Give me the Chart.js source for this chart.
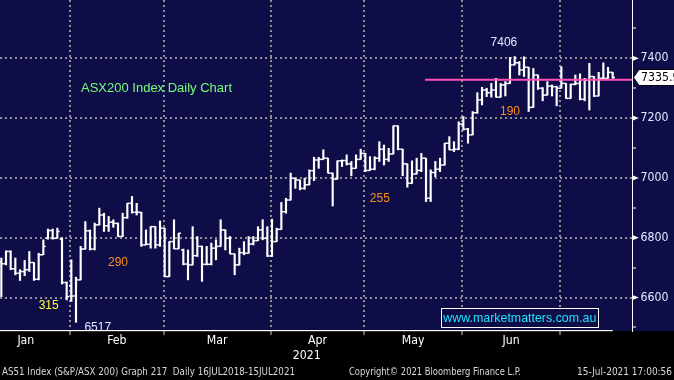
<!DOCTYPE html>
<html><head><meta charset="utf-8">
<script src="https://cdn.jsdelivr.net/npm/chart.js@4.4.1/dist/chart.umd.min.js"></script>
<style>html,body{margin:0;padding:0;background:#000;overflow:hidden}#wrap{width:674px;height:380px}</style>
</head><body><div id="wrap"><canvas id="c" width="674" height="380"></canvas></div>
<script>
// ---------------- DATA ----------------
// ASX trading days shown (2021), by month
const tradingDays = {
  '01': [7,8,11,12,13,14,15,18,19,20,21,22,25,27,28,29],
  '02': [1,2,3,4,5,8,9,10,11,12,15,16,17,18,19,22,23,24,25,26],
  '03': [1,2,3,4,5,8,9,10,11,12,15,16,17,18,19,22,23,24,25,26,29,30,31],
  '04': [1,6,7,8,9,12,13,14,15,16,19,20,21,22,23,26,27,28,29,30],
  '05': [3,4,5,6,7,10,11,12,13,14,17,18,19,20,21,24,25,26,27,28,31],
  '06': [1,2,3,4,7,8,9,10,11,15,16,17,18,21,22,23,24,25,28,29,30],
  '07': [1,2,5,6,7,8,9,12,13,14,15]
};
const hiddenJanDays = 3; // Jan 4-6 lie left of the visible window
const opens = [6720,6713,6754,6696,6681,6687,6693,6717,6661,6743,
 6798,6824,6798,6795,6650,6640,6605,6659,6762,6823,
 6762,6843,6876,6840,6852,6848,6804,6867,6915,6885,
 6885,6776,6778,6837,6776,6832,6670,6787,6763,6759,
 6712,6709,6740,6771,6711,6711,6765,6771,6826,6798,
 6746,6709,6750,6748,6779,6790,6826,6798,6739,6787,
 6828,6887,6926,6999,6993,6965,6977,7024,7060,7062,
 7066,7016,6996,7057,7058,7047,7032,7062,7082,7025,
 7029,7066,7096,7062,7080,7174,7096,7047,6982,7013,
 7025,7066,6932,7018,7029,7043,7116,7094,7096,7180,
 7163,7144,7218,7261,7294,7285,7294,7270,7311,7316,
 7378,7385,7361,7370,7236,7344,7300,7277,7307,7305,
 7300,7316,7266,7313,7316,7263,7327,7339,7274,7333,
 7333,7353];
const highs = [6732,6756,6756,6732,6693,6724,6754,6717,6748,6793,
 6829,6829,6832,6800,6652,6726,6668,6771,6854,6826,
 6849,6899,6882,6871,6860,6849,6882,6915,6938,6915,
 6885,6826,6837,6837,6856,6832,6787,6860,6815,6762,
 6759,6837,6804,6772,6771,6782,6793,6860,6826,6804,
 6746,6765,6787,6804,6804,6837,6860,6837,6862,6832,
 6918,6932,7016,6999,6993,6999,7027,7069,7069,7094,
 7066,7016,7057,7060,7077,7055,7077,7096,7082,7071,
 7071,7121,7110,7099,7174,7174,7096,7047,7057,7066,
 7082,7066,7027,7055,7066,7116,7138,7121,7188,7205,
 7166,7222,7285,7303,7300,7316,7333,7316,7322,7403,
 7406,7389,7405,7370,7366,7344,7302,7322,7311,7307,
 7372,7316,7314,7344,7348,7333,7383,7339,7353,7385,
 7370,7353];
const lows = [6603,6709,6693,6676,6657,6673,6687,6657,6659,6743,
 6795,6795,6798,6645,6592,6587,6517,6659,6762,6759,
 6759,6843,6821,6821,6835,6804,6804,6865,6882,6876,
 6771,6776,6765,6765,6771,6670,6670,6763,6763,6709,
 6659,6709,6737,6654,6709,6709,6726,6771,6759,6746,
 6676,6709,6743,6748,6776,6790,6793,6737,6737,6787,
 6828,6882,6926,6965,6960,6962,6977,6991,7032,7062,
 7016,6906,6996,7038,7043,7007,7032,7062,7021,7025,
 7027,7055,7043,7055,7080,7094,7007,6969,6982,7013,
 7021,6921,6921,7004,7021,7043,7094,7088,7094,7160,
 7116,7144,7216,7244,7272,7270,7270,7270,7274,7316,
 7378,7344,7339,7222,7236,7296,7258,7277,7274,7241,
 7300,7266,7266,7311,7261,7258,7227,7272,7274,7333,
 7333,7333];
const closes = [6713,6754,6696,6681,6687,6693,6717,6661,6743,6771,
 6824,6798,6821,6650,6603,6605,6659,6762,6823,6762,
 6843,6876,6840,6852,6848,6804,6867,6915,6885,6885,
 6776,6778,6837,6776,6832,6670,6787,6763,6815,6712,
 6709,6740,6771,6711,6711,6765,6771,6826,6798,6746,
 6709,6750,6748,6779,6790,6826,6798,6739,6787,6828,
 6887,6926,6999,6993,6965,6977,7024,7060,7062,7066,
 7016,6996,7057,7058,7047,7032,7062,7082,7025,7029,
 7066,7096,7062,7080,7174,7096,7047,6982,7013,7025,
 7066,6932,7018,7029,7043,7116,7094,7096,7180,7163,
 7144,7218,7261,7294,7285,7294,7270,7311,7316,7378,
 7385,7361,7370,7236,7344,7300,7277,7307,7305,7300,
 7316,7266,7313,7316,7263,7327,7339,7274,7333,7333,
 7353,7335.9];
const monthLabels = ['Jan','Feb','Mar','Apr','May','Jun'];
const yearLabel = '2021';
const yTicks = [6500,6600,6700,6800,6900,7000,7100,7200,7300,7400,7500];
const yMajorTicks = [6600,6800,7000,7200,7400];
const lastPrice = 7335.9;
const levelValue = 7328;        // pink horizontal line
const levelFromDate = '2021-05-19';
const notes = [
  {text:'ASX200 Index Daily Chart', color:'#78ff78', size:13, date:'2021-02-24', dx:0.25, v:7300},
  {text:'7406', color:'#e4eaff', size:12, date:'2021-06-10', dx:0.7, v:7451},
  {text:'190',  color:'#ff8c1a', size:12, date:'2021-06-15', dx:0,   v:7223},
  {text:'255',  color:'#ff8c1a', size:12, date:'2021-05-05', dx:0.1, v:6932},
  {text:'290',  color:'#ff8c1a', size:12, date:'2021-02-12', dx:0,   v:6718},
  {text:'315',  color:'#ffff3c', size:12, date:'2021-01-21', dx:0.15,v:6571},
  {text:'6517', color:'#e4eaff', size:12, date:'2021-02-05', dx:0.67,v:6500}
];
const footer = ['AS51 Index (S&P/ASX 200) Graph 217  Daily 16JUL2018-15JUL2021',
                'Copyright\u00A9 2021 Bloomberg Finance L.P.',
                '15-Jul-2021 17:00:56'];
const website = 'www.marketmatters.com.au';

// ---------------- BUILD ----------------
const dates = [];
Object.keys(tradingDays).forEach(m => tradingDays[m].forEach(d => dates.push('2021-' + m + '-' + String(d).padStart(2,'0'))));
const idxOf = d => dates.indexOf(d);

const X_MIN = -0.285, X_MAX = 135.14, Y_MIN = 6488, Y_MAX = 7595;
const TICK_OFF = 0.25;
const NAVY = '#0f0d47', GRID = '#8f8f8f';

// month boundaries (slightly before the first bar of each month, as on the terminal)
const firstIdx = {};
dates.forEach((d,i) => { const m = d.slice(5,7); if (!(m in firstIdx)) firstIdx[m] = i; });
const months = Object.keys(firstIdx);
const bounds = months.map(m => (m === '01' ? firstIdx[m] - hiddenJanDays : firstIdx[m]) - 1.25);
const gridVals = bounds.filter(v => v > X_MIN && v < X_MAX);
const labelVals = monthLabels.map((_, k) => (bounds[k] + bounds[k+1]) / 2);

function fontAvailable(name){
  const c = document.createElement('canvas').getContext('2d');
  const s = 'abcdefghijklmnopqrstuvwxyz0123456789ABC';
  for (const base of ['monospace','serif']) {
    c.font = '50px ' + base; const w0 = c.measureText(s).width;
    c.font = '50px "' + name + '", ' + base; const w1 = c.measureText(s).width;
    if (Math.abs(w0 - w1) > 0.01) return true;
  }
  return false;
}
let AXIS_FAM = '"Liberation Sans"';
if (fontAvailable('Liberation Sans Narrow')) AXIS_FAM = '"Liberation Sans Narrow"';
else if (fontAvailable('DejaVu Sans Condensed')) AXIS_FAM = '"DejaVu Sans Condensed"';
function fitSize(fam, sample, target, maxSize){
  const c = document.createElement('canvas').getContext('2d');
  c.font = '100px ' + fam; const w = c.measureText(sample).width;
  return Math.min(maxSize, Math.round(target / w * 1000) / 10);
}
const AXIS_SIZE = fitSize(AXIS_FAM, '7400', 28, 15.5);
const TXT_FAM = '"Liberation Sans", Arial, sans-serif';

const idx = dates.map((_, i) => i);
const hlBars = idx.map(i => ({x: i, y: [lows[i], highs[i]]}));
const openTicks = idx.map(i => ({x: i - TICK_OFF, y: opens[i]}));
const closeTicks = idx.map(i => ({x: i + TICK_OFF, y: closes[i]}));
const levelData = [{x: idxOf(levelFromDate) - 0.2, y: levelValue}, {x: X_MAX, y: levelValue}];

const isMajor = v => yMajorTicks.indexOf(Math.round(v)) >= 0;
const isGridX = v => gridVals.some(g => Math.abs(g - v) < 1e-6);

const decor = {
  id: 'decor',
  beforeDraw(chart) {
    const {ctx, chartArea: a, width, height} = chart;
    ctx.save();
    ctx.fillStyle = NAVY; ctx.fillRect(0, 0, width, a.bottom);
    ctx.fillStyle = '#000'; ctx.fillRect(0, a.bottom, width, height - a.bottom);
    ctx.restore();
  },
  afterDraw(chart) {
    const {ctx, chartArea: a, width} = chart;
    const xs = chart.scales.x, ys = chart.scales.y;
    ctx.save();
    // annotations
    ctx.save();
    ctx.beginPath(); ctx.rect(a.left, a.top, a.right - a.left, a.bottom - a.top - 1); ctx.clip();
    ctx.textAlign = 'center'; ctx.textBaseline = 'middle';
    notes.forEach(n => {
      ctx.font = n.size + 'px ' + TXT_FAM; ctx.fillStyle = n.color;
      ctx.fillText(n.text, xs.getPixelForValue(idxOf(n.date) + n.dx), ys.getPixelForValue(n.v));
    });
    ctx.restore();
    // website box
    const wx = xs.getPixelForValue(idxOf('2021-06-16') + 1.1), wy = ys.getPixelForValue(6532);
    ctx.fillStyle = NAVY; ctx.fillRect(441, wy - 9.5, 157, 19);
    ctx.strokeStyle = '#ffffff'; ctx.lineWidth = 1; ctx.strokeRect(441.5, Math.round(wy) - 9.5, 157, 19);
    ctx.fillStyle = '#1fe3ff'; ctx.textAlign = 'center'; ctx.textBaseline = 'middle';
    ctx.font = '13px ' + TXT_FAM;
    const tw = ctx.measureText(website).width;
    ctx.save(); ctx.translate(wx, wy + 1); ctx.scale(Math.min(1, 153 / tw), 1);
    ctx.fillText(website, 0, 0); ctx.restore();
    // x axis line up to last bar
    ctx.fillStyle = '#ffffff';
    ctx.fillRect(a.left, a.bottom - 1, xs.getPixelForValue(dates.length - 1) - a.left, 1.2);
    // triangles for major y ticks
    yMajorTicks.forEach(v => {
      const y = ys.getPixelForValue(v);
      ctx.beginPath(); ctx.moveTo(a.right + 0.5, y - 2.6); ctx.lineTo(a.right + 6.8, y); ctx.lineTo(a.right + 0.5, y + 2.6); ctx.closePath();
      ctx.fillStyle = '#ffffff'; ctx.fill();
    });
    // last price box
    const py = ys.getPixelForValue(lastPrice), bx = a.right + 1.5;
    ctx.beginPath(); ctx.moveTo(bx, py); ctx.lineTo(bx + 5.5, py - 8); ctx.lineTo(width + 2, py - 8); ctx.lineTo(width + 2, py + 8); ctx.lineTo(bx + 5.5, py + 8); ctx.closePath();
    ctx.fillStyle = '#ffffff'; ctx.fill(); ctx.strokeStyle = '#000'; ctx.lineWidth = 1; ctx.stroke();
    ctx.fillStyle = '#000'; ctx.font = AXIS_SIZE + 'px ' + AXIS_FAM; ctx.textAlign = 'left'; ctx.textBaseline = 'middle';
    ctx.fillText(lastPrice.toFixed(1), bx + 7.5, py + 0.5);
    // year label
    ctx.fillStyle = '#ffffff'; ctx.textAlign = 'center';
    ctx.fillText(yearLabel, xs.getPixelForValue((bounds[0] + X_MAX) / 2), 355.5);
    // footer
    ctx.fillStyle = '#d8d8d8'; ctx.textAlign = 'left'; ctx.font = '11px ' + AXIS_FAM;
    const spans = [[2, 293], [349, 172], [577, 95]];
    footer.forEach((t, k) => {
      const w = ctx.measureText(t).width;
      ctx.save(); ctx.translate(spans[k][0], 372.5); ctx.scale(spans[k][1] / w, 1);
      ctx.fillText(t, 0, 0); ctx.restore();
    });
    ctx.restore();
  }
};

const tickPt = {pointStyle: 'line', pointRadius: 1.17, pointHoverRadius: 0, pointHitRadius: 0, pointBorderWidth: 1.5,
  pointHoverBorderWidth: 0, pointBorderColor: '#ffffff', pointBackgroundColor: '#ffffff', showLine: false, order: 1};

new Chart(document.getElementById('c'), {
  type: 'bar',
  data: {
    datasets: [
      {type: 'line', data: levelData, borderColor: '#ff4fb2', borderWidth: 2, pointRadius: 0, pointHoverRadius: 0, order: 0},
      {type: 'bar', data: hlBars, backgroundColor: '#ffffff', borderWidth: 0, barThickness: 1.5, order: 2},
      Object.assign({type: 'scatter', data: openTicks}, tickPt),
      Object.assign({type: 'scatter', data: closeTicks}, tickPt)
    ]
  },
  options: {
    responsive: false, animation: false, devicePixelRatio: 1, events: [],
    layout: {padding: 0, autoPadding: false},
    plugins: {legend: {display: false}, tooltip: {enabled: false}},
    scales: {
      x: {
        type: 'linear', min: X_MIN, max: X_MAX, offset: false,
        afterBuildTicks: s => {
          s.ticks = gridVals.concat(labelVals).sort((p, q) => p - q).map(v => ({value: v}));
        },
        ticks: {
          autoSkip: false, maxRotation: 0, minRotation: 0, color: '#ffffff',
          font: {family: AXIS_FAM, size: AXIS_SIZE}, padding: 340.5 - 335 - 0.6 * AXIS_SIZE,
          callback: v => { const k = labelVals.findIndex(l => Math.abs(l - v) < 1e-6); return k >= 0 ? monthLabels[k] : ''; }
        },
        grid: {
          offset: false,
          color: c => (c.tick && isGridX(c.tick.value)) ? GRID : 'transparent',
          lineWidth: 2, tickLength: 4, tickWidth: 1,
          tickColor: c => (c.tick && isGridX(c.tick.value)) ? '#cfcfcf' : 'transparent'
        },
        border: {display: false, dash: [2, 3]},
        afterFit: s => { s.height = 49; s.paddingLeft = 0; s.paddingRight = 0; }
      },
      y: {
        type: 'linear', position: 'right', min: Y_MIN, max: Y_MAX,
        afterBuildTicks: s => { s.ticks = yTicks.map(v => ({value: v})); },
        ticks: {
          color: '#e4eaff',
          font: {family: AXIS_FAM, size: AXIS_SIZE}, padding: 4.5,
          callback: v => isMajor(v) ? String(v) : ''
        },
        grid: {
          offset: false,
          color: c => (c.tick && isMajor(c.tick.value)) ? GRID : 'transparent',
          lineWidth: 2, tickLength: 4, tickWidth: 1,
          tickColor: c => (c.tick && !isMajor(c.tick.value)) ? '#ffffff' : 'transparent'
        },
        border: {display: true, color: '#ffffff', width: 1, dash: [2, 3]},
        afterFit: s => { s.width = 42; s.paddingTop = 0; s.paddingBottom = 0; }
      }
    }
  },
  plugins: [decor]
});
</script>
</body></html>
